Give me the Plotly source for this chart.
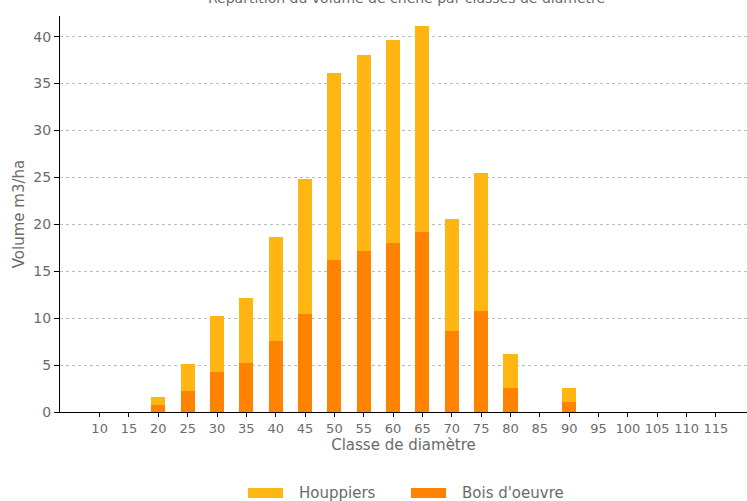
import plotly.graph_objects as go

classes = [10, 15, 20, 25, 30, 35, 40, 45, 50, 55, 60, 65, 70, 75, 80, 85, 90, 95, 100, 105, 110, 115]
bois_oeuvre = [0, 0, 0.7, 2.2, 4.3, 5.2, 7.6, 10.4, 16.2, 17.2, 18.0, 19.2, 8.6, 10.8, 2.6, 0, 1.1, 0, 0, 0, 0, 0]
total = [0, 0, 1.6, 5.1, 10.2, 12.1, 18.7, 24.8, 36.1, 38.0, 39.6, 41.1, 20.6, 25.5, 6.2, 0, 2.6, 0, 0, 0, 0, 0]
houppiers = [round(t - b, 2) for t, b in zip(total, bois_oeuvre)]
title_text = "Répartition du volume de chêne par classes de diamètre"

FONT = "DejaVu Sans"
GREY = "#6b6b6b"
C_HOUP = "#FFB612"
C_BO = "#FF8300"

fig = go.Figure()
fig.add_trace(go.Bar(x=classes, y=bois_oeuvre, name="Bois d'oeuvre", marker_color=C_BO,
                     width=2.4, marker_line_width=0, showlegend=False))
fig.add_trace(go.Bar(x=classes, y=houppiers, name="Houppiers", marker_color=C_HOUP,
                     width=2.4, marker_line_width=0, showlegend=False))

# title (partly cut at the top edge, as in the reference)
fig.add_annotation(text=title_text, xref="paper", yref="paper", x=0.505, y=1,
                   xanchor="center", yanchor="middle", yshift=18, showarrow=False,
                   font=dict(size=14, color=GREY, family=FONT))

# manual legend with wide rectangle swatches
legend_items = [("Houppiers", C_HOUP, 0.2737, 0.3246, 0.345),
                ("Bois d'oeuvre", C_BO, 0.5109, 0.5619, 0.5822)]
for label, col, x0, x1, xt in legend_items:
    fig.add_shape(type="rect", xref="paper", yref="paper", x0=x0, x1=x1,
                  y0=-0.2172, y1=-0.1919, fillcolor=col, line_width=0)
    fig.add_annotation(text=label, xref="paper", yref="paper", x=xt, y=-0.2045,
                       xanchor="left", yanchor="middle", showarrow=False,
                       font=dict(size=15, color=GREY, family=FONT))

fig.update_layout(
    barmode="stack",
    width=747, height=501,
    margin=dict(l=60, r=0, t=16, b=89),
    plot_bgcolor="white", paper_bgcolor="white",
    font=dict(family=FONT, color=GREY, size=13),
    showlegend=False,
)
fig.update_xaxes(
    tickmode="array", tickvals=classes, ticktext=[str(c) for c in classes],
    range=[3.25, 120.3], showgrid=False, showline=True, linecolor="black", linewidth=1,
    ticks="outside", ticklen=4, tickcolor="black", tickangle=0, automargin=False,
    tickfont=dict(size=13, color=GREY),
    title=dict(text="Classe de diamètre", font=dict(size=15, color=GREY), standoff=0),
    zeroline=False,
)
fig.update_yaxes(
    range=[0, 42.2], tickvals=[0, 5, 10, 15, 20, 25, 30, 35, 40],
    showgrid=True, gridcolor="#bdbdbd", griddash="dot", gridwidth=1,
    showline=True, linecolor="black", linewidth=1, automargin=False,
    ticks="outside", ticklen=5, tickcolor="black",
    tickfont=dict(size=14, color=GREY),
    title=dict(text="Volume m3/ha", font=dict(size=15, color=GREY), standoff=5),
    zeroline=False,
)
fig.write_html("out.html", config={"displayModeBar": False},
               post_script="document.body.style.margin='0';")
